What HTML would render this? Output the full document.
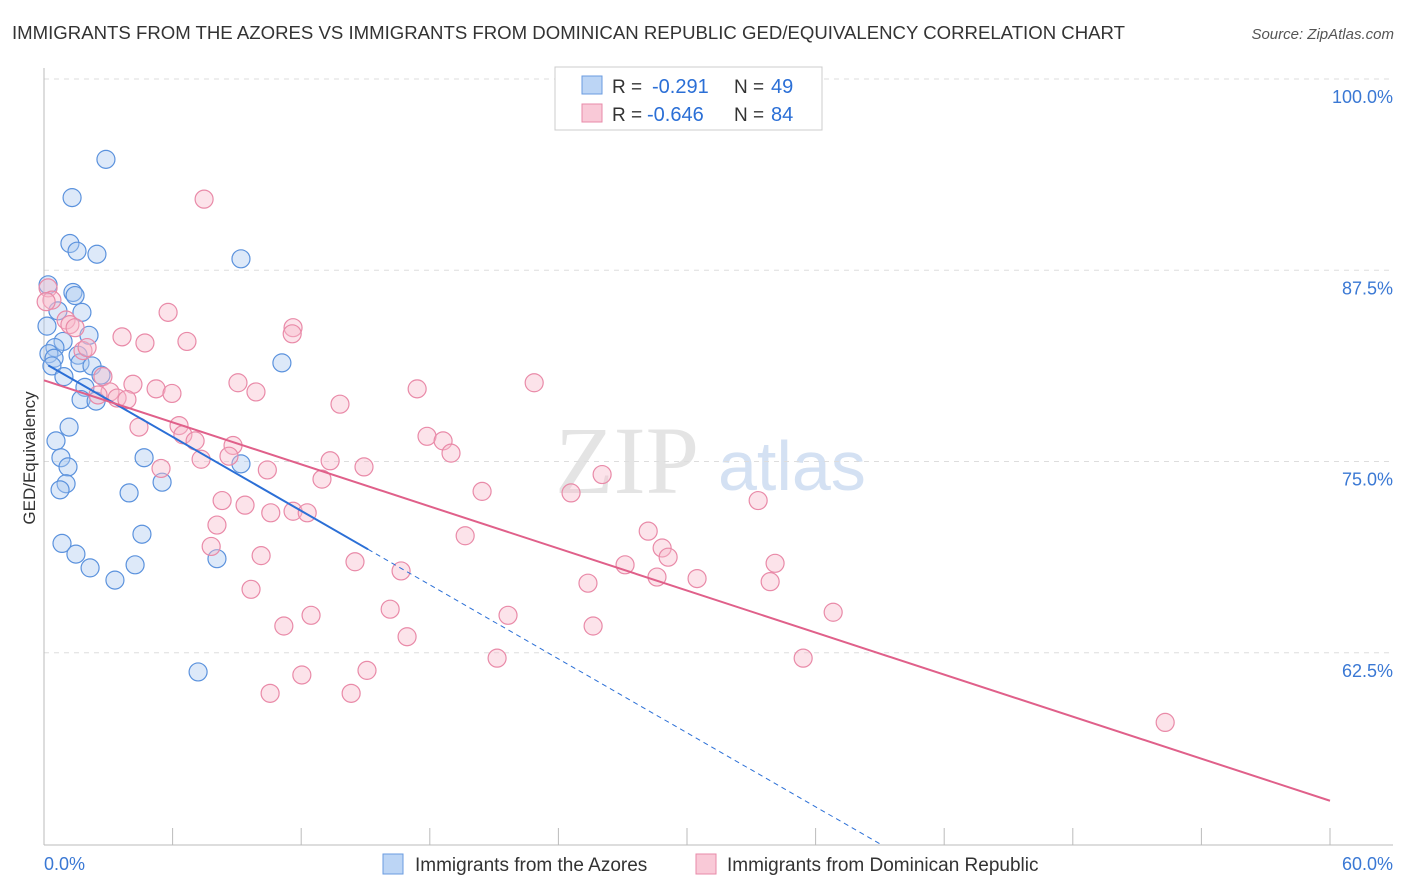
<!DOCTYPE html>
<html><head><meta charset="utf-8"><style>
body{margin:0;background:#fff;font-family:"Liberation Sans",sans-serif;}
svg{display:block}
</style></head><body>
<svg id="c" width="1406" height="892">
<text x="12" y="39" font-size="18.6" fill="#333">IMMIGRANTS FROM THE AZORES VS IMMIGRANTS FROM DOMINICAN REPUBLIC GED/EQUIVALENCY CORRELATION CHART</text>
<text x="1394" y="39" font-size="15" fill="#555" text-anchor="end" font-style="italic">Source: ZipAtlas.com</text>
<text x="555" y="493" font-size="96" fill="#e4e4e4" font-family="Liberation Serif,serif">ZIP</text>
<text x="718" y="490" font-size="70" fill="#d4e1f3">atlas</text>
<text x="35" y="458" font-size="17" fill="#333" text-anchor="middle" transform="rotate(-90 35 458)">GED/Equivalency</text>
<g id="grid"></g><g id="pts"></g><g id="lines"></g>
<g>
<rect x="555" y="67" width="267" height="63" fill="#fff" stroke="#ccc"/>
<rect x="582" y="76" width="20" height="18" fill="#bcd5f5" stroke="#6a9be0"/>
<rect x="582" y="104" width="20" height="18" fill="#f9c9d7" stroke="#e88aa8"/>
<text x="612" y="93" font-size="19" fill="#333">R =</text><text x="652" y="93" font-size="20" fill="#2b6fd6">-0.291</text>
<text x="734" y="93" font-size="19" fill="#333">N =</text><text x="771" y="93" font-size="20" fill="#2b6fd6">49</text>
<text x="612" y="121" font-size="19" fill="#333">R =</text><text x="647" y="121" font-size="20" fill="#2b6fd6">-0.646</text>
<text x="734" y="121" font-size="19" fill="#333">N =</text><text x="771" y="121" font-size="20" fill="#2b6fd6">84</text>
</g>
<g>
<rect x="383" y="854" width="20" height="20" fill="#bcd5f5" stroke="#6a9be0"/>
<text x="415" y="871" font-size="19" fill="#333">Immigrants from the Azores</text>
<rect x="696" y="854" width="20" height="20" fill="#f9c9d7" stroke="#e88aa8"/>
<text x="727" y="871" font-size="19" fill="#333">Immigrants from Dominican Republic</text>
</g>
</svg>
<script>
const yTicks=[100,87.5,75,62.5];
const yTickLabels=["100.0%","87.5%","75.0%","62.5%"];
const xTickLabels=["0.0%","60.0%"];
const blueX=[2.89,1.31,1.21,1.54,2.47,9.19,0.19,1.35,1.45,0.65,1.77,0.14,2.10,0.89,0.51,0.23,1.59,0.47,1.68,2.24,11.1,0.37,0.93,2.66,1.91,1.73,2.43,1.17,0.56,0.79,1.12,4.67,9.19,1.03,0.75,3.97,5.51,4.57,0.84,1.49,2.15,4.25,3.31,8.07,7.19];
const blueY=[97.1,94.6,91.6,91.1,90.9,90.6,88.9,88.4,88.2,87.2,87.1,86.2,85.6,85.2,84.8,84.4,84.3,84.1,83.8,83.6,83.8,83.6,82.9,83.0,82.2,81.4,81.3,79.6,78.7,77.6,77.0,77.6,77.2,75.9,75.5,75.3,76.0,72.6,72.0,71.3,70.4,70.6,69.6,71.0,63.6];
const pinkX=[7.47,0.19,0.37,5.79,1.03,1.21,1.45,11.62,11.58,3.64,6.67,4.71,1.82,2.01,9.05,17.41,22.87,4.15,5.23,5.97,9.89,2.75,3.08,3.41,3.87,2.52,13.81,4.43,6.30,6.48,7.05,8.82,17.87,18.62,18.99,8.63,7.33,13.35,14.93,10.42,5.46,12.97,26.04,20.44,24.59,33.32,8.31,9.38,10.58,11.62,12.28,8.07,19.65,28.19,7.80,28.84,10.13,29.12,14.51,27.11,16.66,34.11,28.60,30.47,25.38,33.88,9.66,16.15,12.46,21.65,36.82,11.19,25.62,16.94,21.14,35.42,15.07,12.03,10.55,14.33,52.31,0.1];
const pinkY=[94.5,88.7,87.9,87.1,86.6,86.3,86.1,86.1,85.7,85.5,85.2,85.1,84.6,84.8,82.5,82.1,82.5,82.4,82.1,81.8,81.9,82.9,81.9,81.5,81.4,81.7,81.1,79.6,79.7,79.1,78.7,78.4,79.0,78.7,77.9,77.7,77.5,77.4,77.0,76.8,76.9,76.2,76.5,75.4,75.3,74.8,74.8,74.5,74.0,74.1,74.0,73.2,72.5,72.8,71.8,71.7,71.2,71.1,70.8,70.6,70.2,70.7,69.8,69.7,69.4,69.5,69.0,67.7,67.3,67.3,67.5,66.6,66.6,65.9,64.5,64.5,63.7,63.4,62.2,62.2,60.3,87.8];
const blueFit=[83.8,-0.806];
const pinkFit=[82.66,-0.458];
const NS="http://www.w3.org/2000/svg";
const X=v=>44+v/60*1286;
const Y=v=>115+(100-v)*15.3;
function mk(t,a,p){const e=document.createElementNS(NS,t);for(const k in a)e.setAttribute(k,a[k]);p.appendChild(e);return e;}
const g=document.getElementById('grid');
yTicks.forEach((v,i)=>{
 const l=mk('line',{x1:44,x2:1393,y1:Y(v)-36,y2:Y(v)-36,stroke:'#ddd','stroke-dasharray':'5,5'},g);
 
 
 const t=mk('text',{x:1393,y:Y(v)-12,'font-size':18,fill:'#3a78d4','text-anchor':'end'},g);
 t.textContent=yTickLabels[i];
 
 
});
mk('line',{x1:44,x2:44,y1:68,y2:845,stroke:'#bbb'},g);
mk('line',{x1:44,x2:1393,y1:845,y2:845,stroke:'#bbb'},g);
for(let k=0;k<=10;k++){mk('line',{x1:X(k*6),x2:X(k*6),y1:828,y2:845,stroke:'#bbb'},g);}
[[0,44,'start'],[60,1393,'end']].forEach((d,i)=>{const t=mk('text',{x:d[1],y:870,'font-size':18,fill:'#3a78d4','text-anchor':d[2]},g);t.textContent=xTickLabels[i];
 
 });
const p=document.getElementById('pts');
function dots(xs,ys,fill,stroke,name){xs.forEach((x,i)=>{const c=mk('circle',{cx:X(x),cy:Y(ys[i]),r:9,fill:fill,'fill-opacity':0.4,stroke:stroke,'stroke-width':1.2},p);
 
 });}
dots(blueX,blueY,'#a9c8f0','#5b92dd','azores-point');
dots(pinkX,pinkY,'#f7b8cb','#e98aa8','dominican-point');
const L=document.getElementById('lines');
const bottomV=100-(845-115)/15.3;
const bEnd=15.12, bZero=(blueFit[0]-bottomV)/-blueFit[1];
let l1=mk('line',{x1:X(0.2),y1:Y(blueFit[0]+blueFit[1]*0.2),x2:X(bEnd),y2:Y(blueFit[0]+blueFit[1]*bEnd),stroke:'#2b6fd6','stroke-width':2},L);


let l2=mk('line',{x1:X(bEnd),y1:Y(blueFit[0]+blueFit[1]*bEnd),x2:X(bZero),y2:Y(blueFit[0]+blueFit[1]*bZero),stroke:'#2b6fd6','stroke-width':1,'stroke-dasharray':'5,4'},L);


let l3=mk('line',{x1:X(0),y1:Y(pinkFit[0]),x2:X(60),y2:Y(pinkFit[0]+pinkFit[1]*60),stroke:'#e0608a','stroke-width':2},L);


</script>
</body></html>
